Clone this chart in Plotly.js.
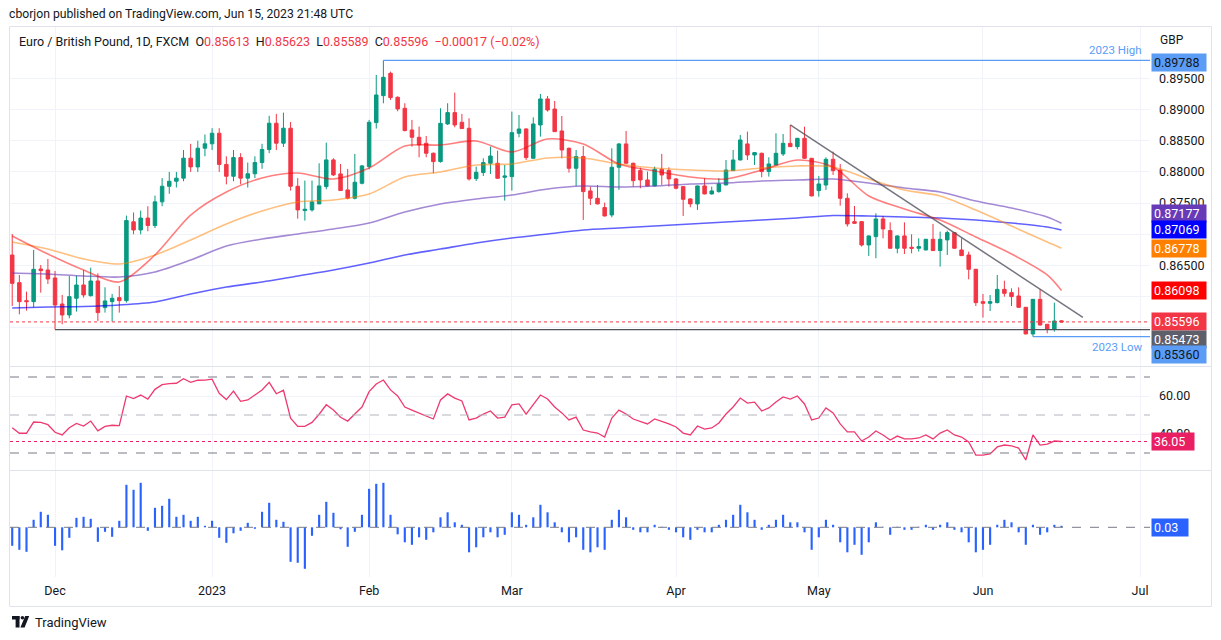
<!DOCTYPE html>
<html><head><meta charset="utf-8">
<script src="https://cdn.plot.ly/plotly-3.0.1.min.js"></script>
<style>html,body{margin:0;padding:0;background:#fff;}#chart{width:1221px;height:640px;}</style>
</head><body><div id="chart"></div>
<script>
// ---------------- DATA ----------------
const dates = [
"2022-11-23","2022-11-24","2022-11-25","2022-11-28","2022-11-29","2022-11-30",
"2022-12-01","2022-12-02","2022-12-05","2022-12-06","2022-12-07","2022-12-08","2022-12-09","2022-12-12","2022-12-13","2022-12-14","2022-12-15","2022-12-16","2022-12-19","2022-12-20","2022-12-21","2022-12-22","2022-12-23","2022-12-26","2022-12-27","2022-12-28","2022-12-29","2022-12-30",
"2023-01-02","2023-01-03","2023-01-04","2023-01-05","2023-01-06","2023-01-09","2023-01-10","2023-01-11","2023-01-12","2023-01-13","2023-01-16","2023-01-17","2023-01-18","2023-01-19","2023-01-20","2023-01-23","2023-01-24","2023-01-25","2023-01-26","2023-01-27","2023-01-30","2023-01-31",
"2023-02-01","2023-02-02","2023-02-03","2023-02-06","2023-02-07","2023-02-08","2023-02-09","2023-02-10","2023-02-13","2023-02-14","2023-02-15","2023-02-16","2023-02-17","2023-02-20","2023-02-21","2023-02-22","2023-02-23","2023-02-24","2023-02-27","2023-02-28",
"2023-03-01","2023-03-02","2023-03-03","2023-03-06","2023-03-07","2023-03-08","2023-03-09","2023-03-10","2023-03-13","2023-03-14","2023-03-15","2023-03-16","2023-03-17","2023-03-20","2023-03-21","2023-03-22","2023-03-23","2023-03-24","2023-03-27","2023-03-28","2023-03-29","2023-03-30","2023-03-31",
"2023-04-03","2023-04-04","2023-04-05","2023-04-06","2023-04-07","2023-04-10","2023-04-11","2023-04-12","2023-04-13","2023-04-14","2023-04-17","2023-04-18","2023-04-19","2023-04-20","2023-04-21","2023-04-24","2023-04-25","2023-04-26","2023-04-27","2023-04-28",
"2023-05-01","2023-05-02","2023-05-03","2023-05-04","2023-05-05","2023-05-08","2023-05-09","2023-05-10","2023-05-11","2023-05-12","2023-05-15","2023-05-16","2023-05-17","2023-05-18","2023-05-19","2023-05-22","2023-05-23","2023-05-24","2023-05-25","2023-05-26","2023-05-29","2023-05-30","2023-05-31",
"2023-06-01","2023-06-02","2023-06-05","2023-06-06","2023-06-07","2023-06-08","2023-06-09","2023-06-12","2023-06-13","2023-06-14","2023-06-15","2023-06-16"];

const open = [
.86668,.86225,.85937,.85921,.86444,.86428,.86300,.85883,.85707,.85975,.86188,.86017,.86252,.85825,.85921,.85985,.85937,.87200,.87070,.87260,
.87140,.87520,.87770,.87850,.87900,.88220,.88080,.88380,.88450,.88620,.88120,.87930,.88230,.87900,.87970,.88150,.88360,.88780,.88460,.88700,
.87770,.87380,.87391,.87487,.87765,.88192,.87968,.87711,.87578,.87818,.88085,.88790,.89222,.89580,.89196,.89019,.88672,.88555,.88459,.88299,
.88165,.88769,.88950,.88795,.88699,.87893,.87989,.88138,.88138,.87914,.87924,.88619,.88688,.88218,.88752,.89169,.89008,.88656,.88378,.88058,
.88245,.87695,.87577,.87428,.87310,.88074,.88448,.88138,.88021,.87871,.87775,.88042,.88021,.87887,.87764,.87567,.87487,.87775,.87647,.87684,
.87791,.88021,.88191,.88448,.88271,.88298,.88005,.88111,.88288,.88458,.88405,.88538,.88218,.87700,.87790,.88202,.88031,.87577,.87203,.87203,
.86829,.86963,.87246,.87059,.86776,.86974,.86792,.86776,.86749,.86920,.86739,.86910,.87027,.86749,.86669,.86439,.85921,.85894,.85905,.86118,
.86065,.86012,.85830,.85403,.85958,.85558,.85483,.85613];
const high = [
.87005,.86348,.86081,.86749,.86508,.86604,.86412,.86028,.86332,.86338,.86428,.86466,.86375,.86151,.86044,.86172,.87300,.87350,.87380,.87450,
.87620,.87900,.88000,.88000,.88350,.88450,.88500,.88600,.88700,.88700,.88250,.88350,.88300,.88150,.88250,.88450,.88900,.88930,.88950,.88800,
.87900,.87861,.87861,.88138,.88469,.88219,.88128,.88048,.88288,.88112,.88833,.89554,.89788,.89607,.89210,.89100,.88833,.88726,.88576,.88310,
.89019,.89100,.89271,.88929,.88859,.88085,.88218,.88405,.88341,.88111,.88966,.88912,.88699,.88875,.89249,.89217,.89137,.88896,.88390,.88352,
.88416,.87764,.87791,.87508,.88378,.88460,.88656,.88150,.88069,.88005,.88085,.88288,.88074,.87900,.87770,.87577,.87780,.87898,.87764,.87898,
.88191,.88352,.88592,.88645,.88315,.88309,.88234,.88619,.88608,.88752,.88545,.88725,.88225,.87935,.88234,.88325,.88127,.87657,.87454,.87210,
.86980,.87337,.87294,.87192,.86980,.87192,.87000,.86936,.86925,.87166,.87043,.87059,.87030,.86936,.86722,.86445,.86044,.86028,.86348,.86257,
.86134,.86150,.85835,.85962,.86118,.85560,.85905,.85623];
const low = [
.85851,.85718,.85777,.85830,.86065,.86204,.85473,.85558,.85654,.85761,.85985,.86001,.85611,.85745,.85601,.85745,.85905,.87000,.87000,.87050,
.87100,.87450,.87650,.87750,.87850,.88000,.88000,.88250,.88350,.88000,.87800,.87850,.87800,.87750,.87900,.88050,.88300,.88350,.88400,.87700,
.87250,.87220,.87364,.87487,.87722,.87935,.87701,.87560,.87560,.87800,.88042,.88694,.89100,.89153,.88971,.88650,.88405,.88235,.88235,.87978,
.88149,.88752,.88715,.88690,.87861,.87855,.87935,.87967,.87887,.87540,.87700,.88555,.88191,.88218,.88565,.88966,.88645,.88218,.87989,.87775,
.87230,.87470,.87480,.87284,.87273,.87711,.88138,.87764,.87738,.87770,.87770,.87791,.87764,.87720,.87294,.87433,.87390,.87640,.87636,.87668,
.87785,.88015,.88185,.88191,.88111,.87914,.87924,.88105,.88255,.88400,.88362,.88210,.87610,.87604,.87710,.87951,.87459,.87123,.87166,.86803,
.86653,.86616,.86936,.86770,.86696,.86685,.86696,.86723,.86745,.86735,.86482,.86669,.86770,.86655,.86279,.85851,.85665,.85771,.85894,.86001,
.85851,.85825,.85400,.85360,.85536,.85414,.85440,.85589];
const close = [
.86214,.85921,.85921,.86439,.86418,.86284,.85867,.85707,.86001,.86188,.86028,.86252,.85745,.85932,.85975,.85937,.87220,.87070,.87260,.87140,
.87520,.87770,.87850,.87900,.88220,.88080,.88380,.88450,.88620,.88120,.87930,.88230,.87900,.87970,.88150,.88360,.88780,.88460,.88700,.87770,
.87391,.87402,.87519,.87775,.88192,.87952,.87701,.87578,.87834,.88096,.88795,.89233,.89516,.89190,.89009,.88662,.88555,.88432,.88299,.88165,
.88779,.88950,.88752,.88694,.87887,.87994,.88149,.88255,.87898,.87935,.88629,.88688,.88229,.88768,.89169,.88992,.88645,.88352,.88058,.88245,
.87684,.87577,.87487,.87294,.88074,.88448,.88138,.87860,.87871,.87775,.88042,.87951,.87887,.87738,.87561,.87487,.87775,.87647,.87695,.87807,
.88031,.88191,.88512,.88271,.88309,.88005,.88127,.88298,.88458,.88405,.88538,.88218,.87615,.87807,.88202,.88020,.87577,.87166,.87176,.86829,
.86974,.87246,.87086,.86776,.86974,.86776,.86776,.86803,.86920,.86739,.86920,.87027,.86776,.86658,.86439,.85905,.85894,.85921,.86118,.86054,
.86001,.85830,.85403,.85958,.85547,.85483,.85611,.85596];

// moving averages read at every 5th bar (bar index -> value)
const maIdx = [0,5,10,15,20,25,30,35,40,45,50,55,60,65,70,75,80,85,90,95,100,105,110,115,120,125,130,135,140,145,147];
const maRed = [.86973,.86684,.86428,.86236,.86668,.87309,.87678,.87902,.87982,.87886,.88062,.88415,.88431,.88495,.88319,.88527,.88447,.88127,.88014,.87918,.87886,.88030,.88191,.88079,.87614,.87405,.87229,.86957,.86684,.86348,.86098];
const maOrange = [.86877,.86764,.86604,.86524,.86668,.86909,.87165,.87373,.87518,.87550,.87646,.87918,.87998,.88111,.88127,.88223,.88223,.88127,.88062,.88030,.88014,.88062,.88095,.88079,.87886,.87710,.87614,.87389,.87133,.86877,.86778];
const maPurple = [.86380,.86364,.86332,.86316,.86396,.86588,.86812,.86925,.87005,.87085,.87181,.87357,.87486,.87566,.87630,.87726,.87774,.87758,.87774,.87806,.87822,.87854,.87870,.87886,.87822,.87742,.87678,.87534,.87421,.87277,.87177];
const maBlue = [.85819,.85835,.85843,.85867,.85915,.86043,.86155,.86236,.86332,.86428,.86540,.86668,.86764,.86861,.86941,.87005,.87069,.87101,.87133,.87165,.87197,.87229,.87261,.87301,.87293,.87277,.87261,.87229,.87181,.87117,.87069];

const rsi = [
43.3,40.4,40.4,46.3,46.1,44.9,40.9,39.5,43.3,45.6,44.2,46.8,41.7,44.0,44.6,44.4,60.0,58.6,60.5,58.4,
63.5,66.0,66.5,66.7,69.1,67.2,68.3,68.4,68.9,61.4,58.1,62.6,57.2,57.9,60.5,63.2,67.2,61.2,63.0,48.3,
44.0,44.0,46.1,50.4,55.4,52.6,48.8,46.8,50.5,54.2,62.3,66.3,68.4,63.2,60.0,54.2,52.6,51.1,49.5,47.9,
57.9,61.1,58.9,57.4,47.4,48.4,50.5,52.1,48.4,48.9,55.3,55.8,50.5,55.8,60.5,58.4,54.2,51.1,47.4,48.9,
42.1,41.1,40.5,38.4,48.4,52.6,50.5,47.9,46.8,45.3,47.9,46.8,45.3,43.7,40.5,39.5,44.2,42.6,43.2,45.8,
50.5,54.2,58.9,56.3,56.8,52.1,53.7,56.8,59.5,58.4,60.0,55.8,47.4,48.4,53.7,51.1,45.3,41.1,41.1,36.3,
38.4,41.6,39.5,36.8,38.9,37.4,37.4,37.9,39.5,37.4,40.5,42.1,39.5,38.4,35.8,28.9,28.9,29.5,33.2,34.2,
33.7,32.6,26.3,39.5,34.2,34.7,36.3,36.05];

const hist = [
-0.37,-0.45,-0.49,0.15,0.31,0.25,-0.37,-0.46,-0.21,0.19,0.21,0.17,-0.29,-0.09,-0.19,0.13,0.85,0.75,0.89,-0.07,
0.39,0.43,0.57,0.21,0.25,0.13,0.21,0.03,0.13,-0.21,-0.31,-0.12,-0.07,0.09,-0.03,0.31,0.49,0.15,0.11,-0.69,
-0.71,-0.83,-0.17,0.25,0.51,0.29,-0.04,-0.39,-0.09,0.25,0.77,0.87,0.89,0.25,-0.14,-0.30,-0.35,-0.20,-0.25,-0.10,
0.20,0.30,0.10,0.05,-0.50,-0.40,-0.20,-0.10,-0.20,-0.15,0.30,0.25,0.05,0.20,0.45,0.30,0.10,-0.10,-0.30,-0.20,
-0.45,-0.50,-0.40,-0.45,0.15,0.35,0.20,-0.05,-0.10,-0.10,0.05,0.01,-0.05,-0.10,-0.20,-0.25,-0.05,-0.10,-0.10,0.05,
0.15,0.25,0.45,0.30,0.15,-0.05,0.05,0.15,0.25,0.10,0.10,-0.10,-0.45,-0.20,0.15,0.05,-0.30,-0.50,-0.35,-0.55,
-0.30,0.10,0.01,-0.15,0.01,-0.05,-0.05,0.01,0.05,-0.05,0.05,0.10,-0.05,-0.10,-0.30,-0.50,-0.45,-0.35,0.05,0.15,
0.10,-0.10,-0.35,0.05,-0.15,-0.10,0.05,0.03];

const monthTickDates = ["2022-12-01","2023-01-02","2023-02-01","2023-03-01","2023-04-03","2023-05-01","2023-06-01","2023-07-03"];
const monthTickLabels = ["Dec","2023","Feb","Mar","Apr","May","Jun","Jul"];
const priceTicks = [0.855,0.860,0.865,0.870,0.875,0.880,0.885,0.890,0.895];
const hiddenPriceTicks = [0.855,0.860,0.870];   // covered by the value labels on the scale
const rsiTicks = [40,60];

const lastO = 0.85613, lastH = 0.85623, lastL = 0.85589, lastC = 0.85596, lastChg = "−0.00017 (−0.02%)";
const high2023 = {from:"2023-02-03", value:0.89788};
const low2023 = {from:"2023-06-12", value:0.85360};
const supportLine = {from:"2022-12-01", value:0.85473};
const trendLine = {from:"2023-04-25", fromValue:0.88752, to:"2023-06-21", toValue:0.85670};
const rsiLast = 36.05, histLast = 0.03;

// ---------------- HELPERS ----------------
const W = 1221, H = 640;
const px = X => X / W;
const py = Y => 1 - Y / H;
function barIndex(d) {
  const i = dates.indexOf(d);
  if (i >= 0) return i;
  let cur = new Date(dates[dates.length - 1] + "T00:00:00Z"), n = dates.length - 1;
  const target = new Date(d + "T00:00:00Z");
  while (cur < target) {
    cur = new Date(cur.getTime() + 86400000);
    const wd = cur.getUTCDay();
    if (wd !== 0 && wd !== 6) n++;
  }
  return n;
}
const xi = dates.map((d, i) => i);
const maX = maIdx;
const tickPos = monthTickDates.map(barIndex);

const FONT = "Roboto, 'Liberation Sans', Arial, sans-serif";
const TXT = "#131722";
const GRID = "#f0f3fa";

const plotL = 10, plotR = 1150;
const mainTop = 27, mainBot = 366;
const rsiTop = 367, rsiBot = 470;
const hTop = 471, hBot = 577;
const xRange = [-0.31, 159.4];

const baseX = {
  range: xRange, domain: [px(plotL), px(plotR)], tickvals: tickPos, ticktext: monthTickLabels,
  showgrid: true, gridcolor: GRID, gridwidth: 1, zeroline: false, showline: false, ticks: "",
  fixedrange: true, rangeslider: {visible: false}
};

const traces = [
  {type: "candlestick", x: xi, open: open, high: high, low: low, close: close, xaxis: "x", yaxis: "y",
   increasing: {line: {color: "#089981", width: 1}, fillcolor: "#089981"},
   decreasing: {line: {color: "#f23645", width: 1}, fillcolor: "#f23645"},
   whiskerwidth: 0, hoverinfo: "skip"},
  {type: "scatter", mode: "lines", x: maX, y: maBlue, xaxis: "x", yaxis: "y", line: {color: "rgba(0,0,255,0.62)", width: 1.6, shape: "spline", smoothing: 0.8}, hoverinfo: "skip"},
  {type: "scatter", mode: "lines", x: maX, y: maPurple, xaxis: "x", yaxis: "y", line: {color: "rgba(103,58,183,0.6)", width: 1.6, shape: "spline", smoothing: 0.8}, hoverinfo: "skip"},
  {type: "scatter", mode: "lines", x: maX, y: maOrange, xaxis: "x", yaxis: "y", line: {color: "rgba(255,127,0,0.5)", width: 1.6, shape: "spline", smoothing: 0.8}, hoverinfo: "skip"},
  {type: "scatter", mode: "lines", x: maX, y: maRed, xaxis: "x", yaxis: "y", line: {color: "rgba(255,0,0,0.5)", width: 1.6, shape: "spline", smoothing: 0.8}, hoverinfo: "skip"},
  {type: "scatter", mode: "lines", x: xi, y: rsi, xaxis: "x2", yaxis: "y2", line: {color: "#ee3a70", width: 1.3}, hoverinfo: "skip"},
  {type: "bar", x: xi, y: hist, xaxis: "x3", yaxis: "y3", width: 0.3, marker: {color: "#2962ff", line: {width: 0}}, hoverinfo: "skip"}
];

const shapes = [];
shapes.push({type: "rect", xref: "paper", yref: "paper", x0: px(9.5), x1: px(1211.5), y0: py(606.5), y1: py(26.5), line: {color: "#e0e3eb", width: 1}, layer: "below"});
shapes.push({type: "line", xref: "paper", yref: "paper", x0: px(9.5), x1: px(1211.5), y0: py(366.5), y1: py(366.5), line: {color: "#e0e3eb", width: 1}});
shapes.push({type: "line", xref: "paper", yref: "paper", x0: px(9.5), x1: px(1211.5), y0: py(470.5), y1: py(470.5), line: {color: "#e0e3eb", width: 1}});
shapes.push({type: "line", xref: "x", yref: "y", x0: barIndex(high2023.from), x1: xRange[1], y0: high2023.value, y1: high2023.value, line: {color: "#5b9cf6", width: 1.2}});
shapes.push({type: "line", xref: "x", yref: "y", x0: barIndex(supportLine.from), x1: xRange[1], y0: supportLine.value, y1: supportLine.value, line: {color: "#50535e", width: 1.2}});
shapes.push({type: "line", xref: "x", yref: "y", x0: barIndex(low2023.from), x1: xRange[1], y0: low2023.value, y1: low2023.value, line: {color: "#5b9cf6", width: 1.2}});
shapes.push({type: "line", xref: "x", yref: "y", x0: xRange[0], x1: xRange[1], y0: lastC, y1: lastC, line: {color: "#f23645", width: 1, dash: "dot"}});
shapes.push({type: "line", xref: "x", yref: "y", x0: barIndex(trendLine.from), x1: barIndex(trendLine.to), y0: trendLine.fromValue, y1: trendLine.toValue, line: {color: "rgba(80,83,94,0.8)", width: 1.5}});
[[70, "#787b86"], [50, "#b2b5be"], [30, "#787b86"]].forEach(([v, c]) => {
  shapes.push({type: "line", xref: "x2", yref: "y2", x0: xRange[0], x1: xRange[1], y0: v, y1: v, line: {color: c, width: 1, dash: "dash"}});
});
shapes.push({type: "line", xref: "x2", yref: "y2", x0: xRange[0], x1: xRange[1], y0: rsiLast, y1: rsiLast, line: {color: "#e91e63", width: 1, dash: "dot"}});
shapes.push({type: "line", xref: "x3", yref: "y3", x0: xRange[0], x1: xRange[1], y0: 0, y1: 0, line: {color: "#787b86", width: 1, dash: "dash"}});
shapes.push({type: "rect", xref: "paper", yref: "paper", x0: px(12), x1: px(19.5), y0: py(619.5), y1: py(616), fillcolor: TXT, line: {width: 0}});
shapes.push({type: "rect", xref: "paper", yref: "paper", x0: px(15.6), x1: px(19.5), y0: py(627.5), y1: py(616), fillcolor: TXT, line: {width: 0}});
shapes.push({type: "circle", xref: "paper", yref: "paper", x0: px(20.6), x1: px(24.2), y0: py(619.6), y1: py(616), fillcolor: TXT, line: {width: 0}});
shapes.push({type: "path", xref: "paper", yref: "paper", path: `M ${px(25.2)} ${py(616)} L ${px(29.2)} ${py(616)} L ${px(24.6)} ${py(627.5)} L ${px(20.4)} ${py(627.5)} Z`, fillcolor: TXT, line: {width: 0}});

const red = "#f23645";
const sp = s => `<span style="color:${red}">${s}</span>`;
const annotations = [
  {xref: "paper", yref: "paper", x: px(7), y: py(14), xanchor: "left", yanchor: "middle", showarrow: false,
   text: "cborjon published on TradingView.com, Jun 15, 2023 21:48 UTC", font: {family: FONT, size: 12.2, color: TXT}},
  {xref: "paper", yref: "paper", x: px(17), y: py(41), xanchor: "left", yanchor: "middle", showarrow: false,
   text: `Euro / British Pound, 1D, FXCM&nbsp;&nbsp;O${sp(lastO.toFixed(5))}&nbsp;&nbsp;H${sp(lastH.toFixed(5))}&nbsp;&nbsp;L${sp(lastL.toFixed(5))}&nbsp;&nbsp;C${sp(lastC.toFixed(5))}&nbsp;&nbsp;${sp(lastChg)}`,
   font: {family: FONT, size: 12.5, color: TXT}},
  {xref: "paper", yref: "paper", x: px(1172), y: py(40), xanchor: "center", yanchor: "middle", showarrow: false, text: "GBP", font: {family: FONT, size: 12, color: TXT}},
  {xref: "paper", yref: "y", x: px(1144), y: high2023.value, yshift: 10, xanchor: "right", yanchor: "middle", showarrow: false, text: "2023 High", font: {family: FONT, size: 11.5, color: "#5b9cf6"}},
  {xref: "paper", yref: "y", x: px(1144), y: low2023.value, yshift: -10, xanchor: "right", yanchor: "middle", showarrow: false, text: "2023 Low", font: {family: FONT, size: 11.5, color: "#5b9cf6"}},
  {xref: "paper", yref: "paper", x: px(33), y: py(622), xanchor: "left", yanchor: "middle", showarrow: false, text: "TradingView", font: {family: FONT, size: 13, color: TXT}}
];

const scaleLabels = [
  [high2023.value, "#5b9cf6", TXT, -2],
  [maPurple[maPurple.length - 1], "#673ab7", "#fff", 10],
  [maBlue[maBlue.length - 1], "#0000ff", "#fff", 0],
  [maOrange[maOrange.length - 1], "#ff7f00", "#fff", 0],
  [maRed[maRed.length - 1], "#ff0000", "#fff", 0],
  [lastC, "#f23645", "#fff", 0],
  [supportLine.value, "#5d606b", "#fff", -10],
  [low2023.value, "#5b9cf6", TXT, -18]
];
scaleLabels.forEach(([v, bg, fg, ys]) => {
  annotations.push({xref: "paper", yref: "y", x: px(1151), y: v, yshift: ys, xanchor: "left", yanchor: "middle", showarrow: false,
    text: v.toFixed(5), bgcolor: bg, font: {family: FONT, size: 12.5, color: fg}, width: 50, height: 13, borderpad: 2, align: "left"});
});
annotations.push({xref: "paper", yref: "y2", x: px(1151), y: rsiLast, xanchor: "left", yanchor: "middle", showarrow: false,
  text: rsiLast.toFixed(2), bgcolor: "#e91e63", font: {family: FONT, size: 12.5, color: "#fff"}, width: 38, height: 13, borderpad: 2, align: "left"});
annotations.push({xref: "paper", yref: "y3", x: px(1151), y: 0, xanchor: "left", yanchor: "middle", showarrow: false,
  text: histLast.toFixed(2), bgcolor: "#2962ff", font: {family: FONT, size: 12.5, color: "#fff"}, width: 32, height: 13, borderpad: 2, align: "left"});

const pxPerUnit = 6240, refP = 0.895, refY = 78.3;
const mainRange = [refP - (mainBot - refY) / pxPerUnit, refP + (refY - mainTop) / pxPerUnit];
const rsiRange = [70 - (rsiBot - 377) / 1.9, 70 + (377 - rsiTop) / 1.9];
const hRange = [-(hBot - 527.3) / 50, (527.3 - hTop) / 50];

const layout = {
  width: W, height: H, margin: {l: 0, r: 0, t: 0, b: 0}, paper_bgcolor: "#fff", plot_bgcolor: "#fff",
  showlegend: false, hovermode: false, dragmode: false,
  font: {family: FONT, size: 12, color: TXT},
  xaxis: Object.assign({}, baseX, {anchor: "y", showticklabels: false}),
  xaxis2: Object.assign({}, baseX, {anchor: "y2", showticklabels: false}),
  xaxis3: Object.assign({}, baseX, {anchor: "y3", showticklabels: true, tickfont: {family: FONT, size: 12.5, color: TXT}, ticklabelstandoff: 4}),
  yaxis: {domain: [py(mainBot), py(mainTop)], range: mainRange, side: "right", anchor: "x", tickvals: priceTicks,
          ticktext: priceTicks.map(v => hiddenPriceTicks.includes(v) ? "" : v.toFixed(5)),
          showgrid: true, gridcolor: GRID, zeroline: false, ticks: "", ticklabelstandoff: 8, tickfont: {family: FONT, size: 12.5, color: TXT}, fixedrange: true},
  yaxis2: {domain: [py(rsiBot), py(rsiTop)], range: rsiRange, side: "right", anchor: "x2", tickvals: rsiTicks, ticktext: rsiTicks.map(v => v.toFixed(2)),
          showgrid: true, gridcolor: GRID, zeroline: false, ticks: "", ticklabelstandoff: 8, tickfont: {family: FONT, size: 12.5, color: TXT}, fixedrange: true},
  yaxis3: {domain: [py(hBot), py(hTop)], range: hRange, side: "right", anchor: "x3", showticklabels: false, showgrid: false, zeroline: false, ticks: "", fixedrange: true},
  shapes: shapes, annotations: annotations
};

Plotly.newPlot("chart", traces, layout, {staticPlot: true, displayModeBar: false});
</script>
</body></html>
